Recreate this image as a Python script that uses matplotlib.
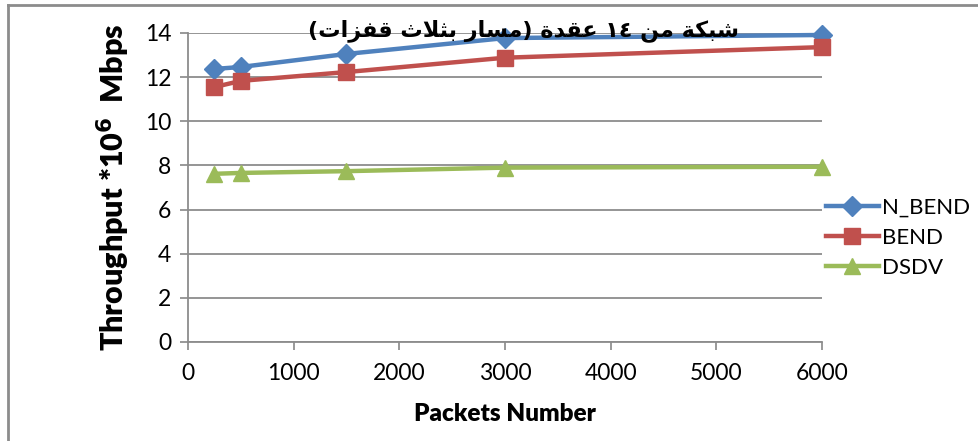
import matplotlib
matplotlib.use('Agg')
import matplotlib.pyplot as plt
from matplotlib.lines import Line2D

# throughput vs number of packets, 14-node network
packets = [250, 500, 1500, 3000, 6000]
n_bend = [12.37, 12.46, 13.05, 13.77, 13.91]
bend = [11.55, 11.83, 12.23, 12.88, 13.36]
dsdv = [7.62, 7.66, 7.74, 7.90, 7.94]

x_ticks = [0, 1000, 2000, 3000, 4000, 5000, 6000]
y_ticks = [0, 2, 4, 6, 8, 10, 12, 14]

title_ar = 'شبكة من ١٤ عقدة (مسار بثلاث قفزات)'

# Arabic presentation forms: isolated, final, initial, medial
FORMS = {
    'ا': ('\uFE8D', '\uFE8E', None, None),
    'ب': ('\uFE8F', '\uFE90', '\uFE91', '\uFE92'),
    'ة': ('\uFE93', '\uFE94', None, None),
    'ت': ('\uFE95', '\uFE96', '\uFE97', '\uFE98'),
    'ث': ('\uFE99', '\uFE9A', '\uFE9B', '\uFE9C'),
    'د': ('\uFEA9', '\uFEAA', None, None),
    'ر': ('\uFEAD', '\uFEAE', None, None),
    'ز': ('\uFEAF', '\uFEB0', None, None),
    'س': ('\uFEB1', '\uFEB2', '\uFEB3', '\uFEB4'),
    'ش': ('\uFEB5', '\uFEB6', '\uFEB7', '\uFEB8'),
    'ع': ('\uFEC9', '\uFECA', '\uFECB', '\uFECC'),
    'ف': ('\uFED1', '\uFED2', '\uFED3', '\uFED4'),
    'ق': ('\uFED5', '\uFED6', '\uFED7', '\uFED8'),
    'ك': ('\uFED9', '\uFEDA', '\uFEDB', '\uFEDC'),
    'ل': ('\uFEDD', '\uFEDE', '\uFEDF', '\uFEE0'),
    'م': ('\uFEE1', '\uFEE2', '\uFEE3', '\uFEE4'),
    'ن': ('\uFEE5', '\uFEE6', '\uFEE7', '\uFEE8'),
    'لا': ('\uFEFB', '\uFEFC', None, None),
}


def shape_arabic(text):
    # split into units, merging lam + alef into one ligature
    units = []
    i = 0
    while i < len(text):
        if text[i:i + 2] == 'لا':
            units.append('لا')
            i += 2
        else:
            units.append(text[i])
            i += 1
    out = []
    for k, u in enumerate(units):
        if u not in FORMS:
            out.append(u)
            continue
        prev = units[k - 1] if k > 0 else None
        nxt = units[k + 1] if k + 1 < len(units) else None
        joins_prev = prev in FORMS and FORMS[prev][2] is not None
        joins_next = nxt in FORMS and FORMS[u][2] is not None
        iso, fin, ini, med = FORMS[u]
        if joins_prev and joins_next:
            out.append(med)
        elif joins_prev:
            out.append(fin)
        elif joins_next:
            out.append(ini)
        else:
            out.append(iso)
    # visual order: reverse, keep digit runs left-to-right, mirror brackets
    rev = ''.join(out)[::-1]
    res, run = [], ''
    for ch in rev:
        if ch.isdigit():
            run += ch
        else:
            if run:
                res.append(run[::-1])
                run = ''
            res.append({'(': ')', ')': '('}.get(ch, ch))
    if run:
        res.append(run[::-1])
    return ''.join(res)


plt.rcParams['font.family'] = ['Lato', 'DejaVu Sans']

fig = plt.figure(figsize=(9.79, 4.41), dpi=100)
ax = fig.add_axes([0.192, 0.2245, 0.6477, 0.7007])

styles = [
    ('N_BEND', n_bend, '#4F81BD', 'D', 10),
    ('BEND', bend, '#C0504D', 's', 12),
    ('DSDV', dsdv, '#9BBB59', '^', 12),
]
handles = []
for name, vals, col, mk, ms in styles:
    ax.plot(packets, vals, color=col, lw=3.2, marker=mk, ms=ms,
            markeredgecolor=col, clip_on=False, zorder=3)
    handles.append(Line2D([], [], color=col, lw=3.2, marker=mk, ms=ms,
                          markeredgecolor=col, label=name))

ax.set_xlim(0, 6000)
ax.set_ylim(0, 14)
ax.set_xticks(x_ticks)
ax.set_yticks(y_ticks)
ax.tick_params(axis='both', labelsize=16.5, color='#888888', length=6, width=1.2)
ax.tick_params(axis='x', pad=9)
ax.tick_params(axis='y', pad=6)
ax.yaxis.grid(True, color='#8c8c8c', lw=1.3)
ax.set_axisbelow(True)
for side in ['top', 'right']:
    ax.spines[side].set_visible(False)
for side in ['left', 'bottom']:
    ax.spines[side].set_color('#8c8c8c')
    ax.spines[side].set_linewidth(1.3)

ax.set_xlabel('Packets Number', fontsize=17.5, fontweight='heavy', labelpad=14)
ax.set_ylabel(r'Throughput *10$^{\mathbf{6}}$  Mbps', fontsize=22,
              fontweight='heavy', labelpad=9)

fig.text(0.535, 0.93, shape_arabic(title_ar), ha='center', va='center',
         fontsize=16, fontweight='bold', family=['DejaVu Sans'], zorder=5)

fig.legend(handles=handles, loc='center left', bbox_to_anchor=(0.832, 0.46),
           frameon=False, fontsize=16, handlelength=2.4, handletextpad=0.15,
           labelspacing=0.45, borderpad=0)

# chart frame lines along top and left edges
fig.add_artist(Line2D([8.5 / 979, 1], [1 - 4.5 / 441, 1 - 4.5 / 441],
                      transform=fig.transFigure, color='#8c8c8c', lw=2))
fig.add_artist(Line2D([8.5 / 979, 8.5 / 979], [0, 1 - 4.5 / 441],
                      transform=fig.transFigure, color='#8c8c8c', lw=2))

fig.savefig('out.png', dpi=100)
